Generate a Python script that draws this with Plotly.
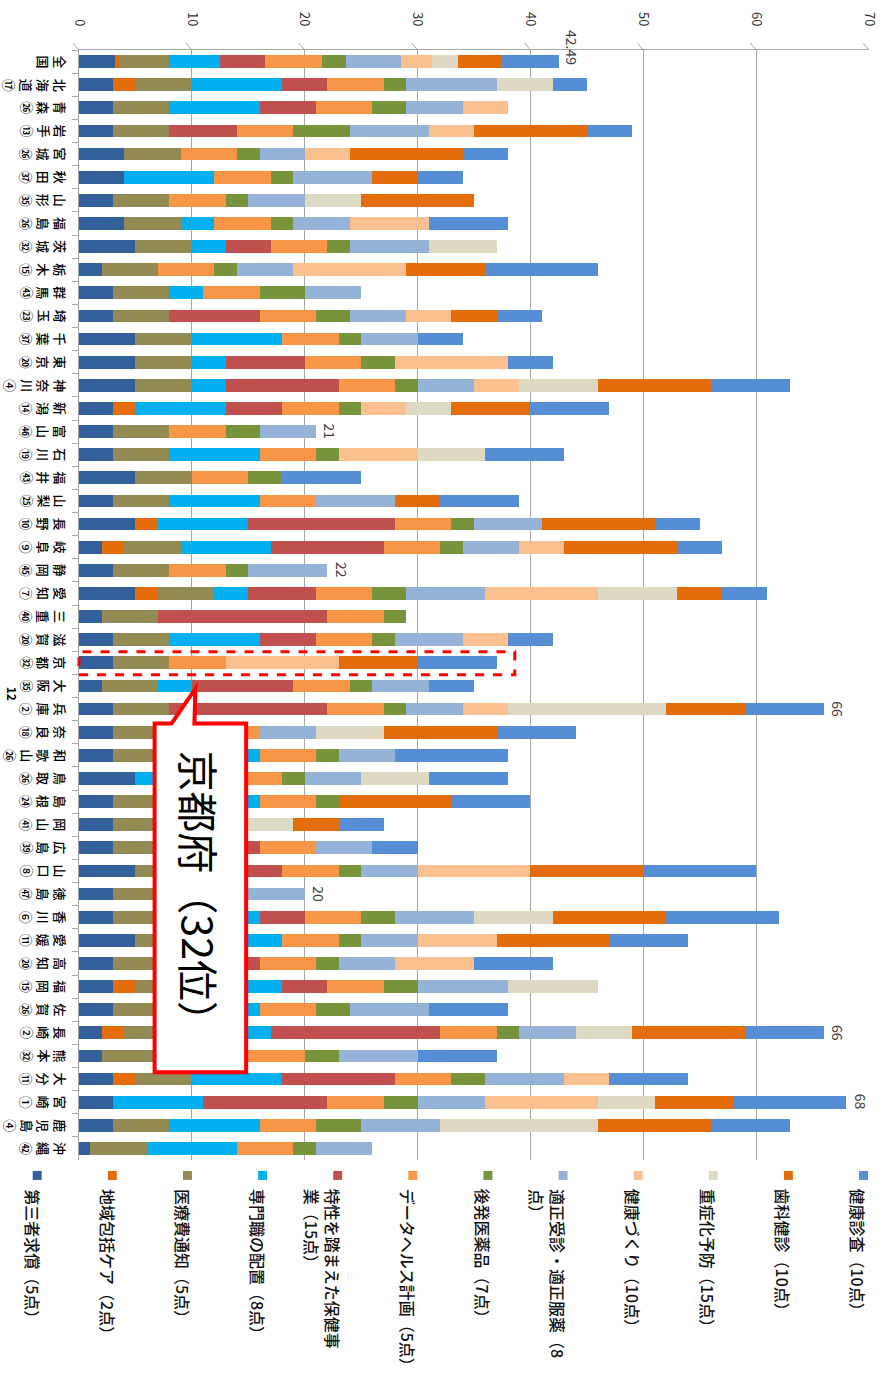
import plotly.graph_objects as go

# ---- data -------------------------------------------------------------
prefectures = ["全国", "北海道", "青森", "岩手", "宮城", "秋田", "山形", "福島", "茨城", "栃木",
               "群馬", "埼玉", "千葉", "東京", "神奈川", "新潟", "富山", "石川", "福井", "山梨",
               "長野", "岐阜", "静岡", "愛知", "三重", "滋賀", "京都", "大阪", "兵庫", "奈良",
               "和歌山", "鳥取", "島根", "岡山", "広島", "山口", "徳島", "香川", "愛媛", "高知",
               "福岡", "佐賀", "長崎", "熊本", "大分", "宮崎", "鹿児島", "沖縄"]

ranks = [None, 17, 26, 13, 26, 37, 35, 26, 32, 15,
         43, 23, 37, 20, 4, 14, 46, 19, 43, 25,
         10, 9, 45, 7, 40, 20, 32, 35, 2, 18,
         26, 26, 24, 41, 39, 8, 47, 6, 11, 20,
         15, 26, 2, 32, 11, 1, 4, 42]

items = ["第三者求償（5点）", "地域包括ケア（2点）", "医療費通知（5点）", "専門職の配置（8点）",
         "特性を踏まえた保健事業（15点）", "データヘルス計画（5点）", "後発医薬品（7点）",
         "適正受診・適正服薬（8点）", "健康づくり（10点）", "重症化予防（15点）",
         "歯科健診（10点）", "健康診査（10点）"]

legend_text = ["第三者求償（5点）", "地域包括ケア（2点）", "医療費通知（5点）", "専門職の配置（8点）",
               "特性を踏まえた保健事<br>業（15点）", "データヘルス計画（5点）", "後発医薬品（7点）",
               "適正受診・適正服薬（8<br>点）", "健康づくり（10点）", "重症化予防（15点）",
               "歯科健診（10点）", "健康診査（10点）"]

third_party = [3.15, 3, 3, 3, 4, 4, 3, 4, 5, 2, 3, 3, 5, 5, 5, 3, 3, 3, 5, 3,
               5, 2, 3, 5, 2, 3, 3, 2, 3, 3, 3, 5, 3, 3, 3, 5, 3, 3, 5, 3,
               3, 3, 2, 2, 3, 3, 3, 1]
community = [0.4, 2, 0, 0, 0, 0, 0, 0, 0, 0, 0, 0, 0, 0, 0, 2, 0, 0, 0, 0,
             2, 2, 0, 2, 0, 0, 0, 0, 0, 0, 0, 0, 0, 0, 0, 0, 0, 0, 0, 0,
             2, 0, 2, 0, 2, 0, 0, 0]
med_notice = [4.45, 5, 5, 5, 5, 0, 5, 5, 5, 5, 5, 5, 5, 5, 5, 0, 5, 5, 5, 5,
              0, 5, 5, 5, 5, 5, 5, 5, 5, 5, 5, 0, 5, 5, 5, 5, 5, 5, 5, 5,
              5, 5, 5, 5, 5, 0, 5, 5]
specialists = [4.5, 8, 8, 0, 0, 8, 0, 3, 3, 0, 3, 0, 8, 3, 3, 8, 0, 8, 0, 8,
               8, 8, 0, 3, 0, 8, 0, 3, 0, 3, 8, 8, 8, 0, 3, 3, 0, 8, 8, 3,
               8, 8, 8, 8, 8, 8, 8, 8]
local_health = [4.0, 4, 5, 6, 0, 0, 0, 0, 4, 0, 0, 8, 0, 7, 10, 5, 0, 0, 0, 0,
                13, 10, 0, 6, 15, 5, 0, 9, 14, 0, 0, 0, 0, 0, 5, 5, 0, 4, 0, 5,
                4, 0, 15, 0, 10, 11, 0, 0]
data_health = [5.0, 5, 5, 5, 5, 5, 5, 5, 5, 5, 5, 5, 5, 5, 5, 5, 5, 5, 5, 5,
               5, 5, 5, 5, 5, 5, 5, 5, 5, 5, 5, 5, 5, 5, 5, 5, 5, 5, 5, 5,
               5, 5, 5, 5, 5, 5, 5, 5]
generics = [2.15, 2, 3, 5, 2, 2, 2, 2, 2, 2, 4, 3, 2, 3, 2, 2, 3, 2, 3, 0,
            2, 2, 2, 3, 2, 2, 0, 2, 2, 0, 2, 2, 2, 2, 0, 2, 2, 3, 2, 2,
            3, 3, 2, 3, 3, 3, 4, 2]
proper_care = [4.85, 8, 5, 7, 4, 7, 5, 5, 7, 5, 5, 5, 5, 0, 5, 0, 5, 0, 0, 7,
               6, 5, 7, 7, 0, 6, 0, 5, 5, 5, 5, 5, 0, 0, 5, 5, 5, 7, 5, 5,
               8, 7, 5, 7, 7, 6, 7, 5]
health_promo = [2.75, 0, 4, 4, 4, 0, 0, 7, 0, 10, 0, 4, 0, 10, 4, 4, 0, 7, 0, 0,
                0, 4, 0, 10, 0, 4, 10, 0, 4, 0, 0, 0, 0, 0, 0, 10, 0, 0, 7, 7,
                0, 0, 0, 0, 4, 10, 0, 0]
severe_prev = [2.35, 5, 0, 0, 0, 0, 5, 0, 6, 0, 0, 0, 0, 0, 7, 4, 0, 6, 0, 0,
               0, 0, 0, 7, 0, 0, 0, 0, 14, 6, 0, 6, 0, 4, 0, 0, 0, 7, 0, 0,
               8, 0, 5, 0, 0, 5, 14, 0]
dental = [3.9, 0, 0, 10, 10, 4, 10, 0, 0, 7, 0, 4, 0, 0, 10, 7, 0, 0, 0, 4,
          10, 10, 0, 4, 0, 0, 7, 0, 7, 10, 0, 0, 10, 4, 0, 10, 0, 10, 10, 0,
          0, 0, 10, 0, 0, 7, 10, 0]
checkups = [4.99, 3, 0, 4, 4, 4, 0, 7, 0, 10, 0, 4, 4, 4, 7, 7, 0, 7, 7, 7,
            4, 4, 0, 4, 0, 4, 7, 4, 7, 7, 10, 7, 7, 4, 4, 10, 0, 10, 7, 7,
            0, 7, 7, 7, 7, 10, 7, 0]

series = [third_party, community, med_notice, specialists, local_health, data_health,
          generics, proper_care, health_promo, severe_prev, dental, checkups]

colors = ["#31609A", "#E46C0A", "#948A54", "#00B0F0", "#C0504D", "#F79646",
          "#77933C", "#95B3D7", "#FAC090", "#DDD9C3", "#E46C0A", "#558ED5"]

# prefectures whose totals are printed next to the bar
labelled = ["全国", "富山", "静岡", "兵庫", "徳島", "長崎", "宮崎"]

axis_ticks = [0, 10, 20, 30, 40, 50, 60, 70]

# ---- geometry helpers (pixel -> paper) ---------------------------------
FIG_W, FIG_H = 892, 1381
L, R, T, B = 79, 873, 46, 1160
PW, PH = R - L, B - T


def px(x):
    return (x - L) / PW


def py(y):
    return (B - y) / PH


def circled(n):
    if n <= 20:
        return chr(0x2460 + n - 1)
    if n <= 35:
        return chr(0x3251 + n - 21)
    return chr(0x32B1 + n - 36)


FONT = "Noto Sans CJK JP"
GRID = "#A6A6A6"

fig = go.Figure()
for name, vals, col in zip(items, series, colors):
    fig.add_trace(go.Bar(
        y=prefectures, x=vals, name=name, orientation="h",
        marker=dict(color=col, line=dict(width=0)),
        showlegend=False, hoverinfo="skip",
    ))

annotations = []

# category labels: stacked characters, turned a quarter clockwise
for name, rk in zip(prefectures, ranks):
    chars = list(name) + ([circled(rk)] if rk else [])
    annotations.append(dict(
        text="<br>".join(chars), textangle=90, showarrow=False,
        xref="paper", x=px(72), xanchor="right",
        yref="y", y=name, yanchor="middle", align="center",
        font=dict(family=FONT, size=13, color="#000000", weight=500),
    ))

# totals printed beside selected bars (the national average sits a little higher)
totals = {p: round(sum(s[i] for s in series), 2) for i, p in enumerate(prefectures)}
for p in labelled:
    annotations.append(dict(
        text=f"{totals[p]:g}", textangle=90, showarrow=False,
        xref="x", x=totals[p], xanchor="left", xshift=2,
        yref="y", y=p, yanchor="middle", yshift=14 if p == "全国" else 0,
        font=dict(family=FONT, size=14, color="#404040"),
    ))

# hand-drawn legend along the bottom
shapes = []
step = 75.5
for k, (txt, col) in enumerate(zip(legend_text, colors)):
    cx = 37 + step * k
    shapes.append(dict(type="rect", xref="paper", yref="paper",
                       x0=px(cx - 4.5), x1=px(cx + 4.5), y0=py(1180), y1=py(1171),
                       fillcolor=col, line=dict(width=0)))
    annotations.append(dict(
        text=txt, textangle=90, showarrow=False,
        xref="paper", x=px(cx + 9), xanchor="right",
        yref="paper", y=py(1187), yanchor="top", align="left",
        font=dict(family=FONT, size=16, color="#111111", weight=500),
    ))

# dashed highlight around Kyoto
shapes.append(dict(type="rect", xref="paper", yref="paper",
                   x0=px(79), x1=px(517), y0=py(673), y1=py(650),
                   line=dict(color="#FF0000", width=3, dash="dash"),
                   fillcolor="rgba(0,0,0,0)"))

# speech-bubble callout
pts = [(155, 722), (172, 722), (196, 687), (195, 722), (247, 722),
       (247, 1072), (155, 1072)]
path = "M " + " L ".join(f"{px(x):.5f},{py(y):.5f}" for x, y in pts) + " Z"
shapes.append(dict(type="path", xref="paper", yref="paper", path=path,
                   fillcolor="white", line=dict(color="#FF0000", width=4)))
annotations.append(dict(
    text="京都府（32位）", textangle=90, showarrow=False,
    xref="paper", x=px(201), xanchor="center",
    yref="paper", y=py(896), yanchor="middle",
    font=dict(family=FONT, size=41, color="#000000"),
))

# small bold heading fragment at the left edge
annotations.append(dict(
    text="<b>12</b>", textangle=90, showarrow=False,
    xref="paper", x=px(1), xanchor="left",
    yref="paper", y=py(692), yanchor="middle",
    font=dict(family=FONT, size=12, color="#000000"),
))

# slanted tops of the gridlines (3-D wall edge)
for t in axis_ticks:
    xp = L + t * PW / 70
    shapes.append(dict(type="line", xref="paper", yref="paper",
                       x0=px(xp - 6), y0=py(39), x1=px(xp), y1=py(46),
                       line=dict(color=GRID, width=1)))

fig.update_layout(
    width=FIG_W, height=FIG_H,
    margin=dict(l=L, r=FIG_W - R, t=T, b=FIG_H - B),
    paper_bgcolor="white", plot_bgcolor="white",
    barmode="stack", bargap=0.45,
    font=dict(family=FONT),
    xaxis=dict(range=[0, 70], side="top", tickvals=axis_ticks,
               ticktext=[str(v) for v in axis_ticks], tickangle=90,
               tickfont=dict(size=13, color="#333333"),
               ticks="", ticklabelstandoff=18,
               showgrid=True, gridcolor=GRID, gridwidth=1,
               zeroline=False, showline=True, linecolor=GRID, linewidth=1),
    yaxis=dict(type="category", categoryorder="array", categoryarray=prefectures,
               autorange="reversed", showticklabels=False,
               ticks="outside", tickson="boundaries", ticklen=6, tickcolor=GRID,
               showgrid=False, zeroline=False, showline=True, linecolor=GRID),
    annotations=annotations, shapes=shapes,
)

fig.write_html("out.html")
